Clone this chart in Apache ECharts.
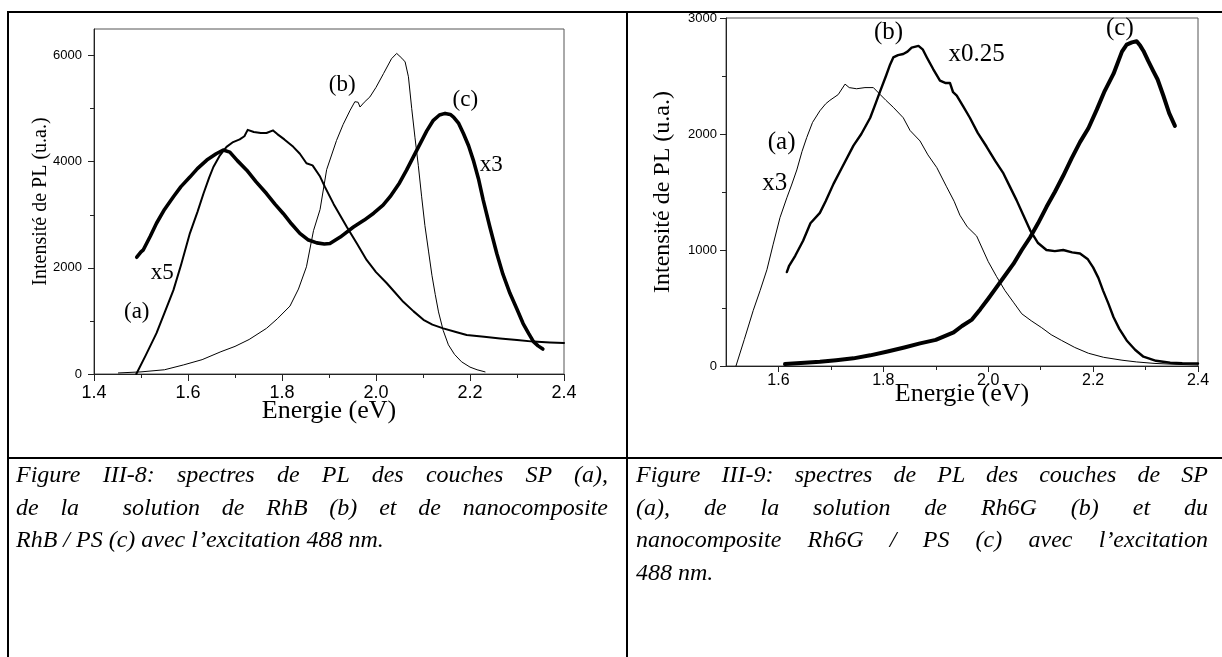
<!DOCTYPE html>
<html lang="fr">
<head>
    <meta charset="UTF-8">
    <title>spectres PL</title>
    <script src="https://cdn.jsdelivr.net/npm/echarts@6/dist/echarts.min.js"></script>
    <style>
        html, body {
            margin: 0;
            padding: 0;
            background: #fff;
        }
        #page {
            position: relative;
            width: 1222px;
            height: 657px;
            overflow: hidden;
        }
        #main {
            position: absolute;
            left: 0;
            top: 0;
            width: 1222px;
            height: 657px;
        }
        .rule {
            position: absolute;
            background: #000;
            z-index: 5;
        }
        .caption {
            position: absolute;
            top: 458px;
            font-family: "Liberation Serif", "Times New Roman", serif;
            font-style: italic;
            font-size: 24px;
            line-height: 32.5px;
            color: #000;
            z-index: 4;
        }
        .caption .j {
            text-align: justify;
            text-align-last: justify;
            white-space: nowrap;
        }
    </style>
</head>
<body>
<div id="page">
    <div id="main"></div>
    <!-- bordures du tableau -->
    <div class="rule" style="left:7px;top:11px;width:1215px;height:2px;"></div>
    <div class="rule" style="left:7px;top:11px;width:2px;height:646px;"></div>
    <div class="rule" style="left:626px;top:11px;width:2px;height:646px;"></div>
    <div class="rule" style="left:7px;top:457px;width:1215px;height:2px;"></div>

    <div class="caption" style="left:16px;width:592px;">
        <div class="j">Figure III-8: spectres de PL des couches SP (a),</div>
        <div class="j">de la &nbsp;solution de RhB (b) et de nanocomposite</div>
        <div>RhB / PS (c) avec l’excitation 488 nm.</div>
    </div>
    <div class="caption" style="left:636px;width:572px;">
        <div class="j">Figure III-9: spectres de PL des couches de SP</div>
        <div class="j">(a), de la solution de Rh6G (b) et du</div>
        <div class="j">nanocomposite Rh6G / PS (c) avec l’excitation</div>
        <div>488 nm.</div>
    </div>
</div>
<script>
    // ---- Figure III-8 : [energie eV, intensite u.a.] ----
    let fig8A = [[1.49, 0], [1.51, 350], [1.533, 770], [1.55, 1150], [1.569, 1580], [1.585, 2050], [1.604, 2650],
        [1.62, 3050], [1.633, 3400], [1.645, 3700], [1.654, 3900], [1.668, 4120], [1.682, 4280], [1.696, 4370],
        [1.71, 4420], [1.72, 4480], [1.727, 4600], [1.74, 4560], [1.755, 4540], [1.767, 4540], [1.781, 4590],
        [1.79, 4520], [1.805, 4420], [1.824, 4280], [1.838, 4150], [1.852, 3970], [1.865, 3930], [1.881, 3720],
        [1.891, 3530], [1.91, 3200], [1.938, 2770], [1.96, 2450], [1.98, 2150], [2.0, 1920], [2.023, 1710],
        [2.04, 1540], [2.058, 1360], [2.08, 1180], [2.101, 1020], [2.12, 930], [2.143, 860], [2.17, 790],
        [2.193, 735], [2.23, 700], [2.264, 670], [2.3, 640], [2.335, 610], [2.37, 595], [2.4, 585]];
    let fig8B = [[1.452, 20], [1.5, 40], [1.55, 80], [1.59, 170], [1.63, 270], [1.67, 420], [1.7, 520], [1.73, 650],
        [1.767, 860], [1.79, 1040], [1.817, 1280], [1.835, 1600], [1.852, 2020], [1.867, 2700], [1.881, 3100],
        [1.895, 3850], [1.916, 4400], [1.93, 4700], [1.945, 4970], [1.955, 5130], [1.962, 5120], [1.966, 5030],
        [1.975, 5120], [1.987, 5220], [2.0, 5400], [2.016, 5660], [2.033, 5940], [2.044, 6040], [2.055, 5950],
        [2.062, 5880], [2.069, 5600], [2.076, 5000], [2.083, 4450], [2.09, 3930], [2.097, 3350], [2.104, 2800],
        [2.112, 2300], [2.119, 1860], [2.126, 1500], [2.133, 1170], [2.143, 820], [2.154, 550], [2.167, 370],
        [2.182, 230], [2.2, 130], [2.215, 80], [2.232, 40]];
    let fig8C = [[1.491, 2200], [1.5, 2300], [1.505, 2340], [1.52, 2600], [1.533, 2840], [1.55, 3100], [1.569, 3340],
        [1.585, 3530], [1.604, 3710], [1.62, 3870], [1.64, 4030], [1.66, 4150], [1.675, 4220], [1.689, 4180],
        [1.705, 4020], [1.725, 3840], [1.745, 3620], [1.767, 3400], [1.785, 3200], [1.803, 3020], [1.82, 2830],
        [1.838, 2650], [1.855, 2530], [1.874, 2470], [1.89, 2450], [1.902, 2460], [1.924, 2580], [1.952, 2770],
        [1.975, 2900], [1.995, 3030], [2.015, 3180], [2.03, 3340], [2.05, 3600], [2.065, 3840], [2.08, 4100],
        [2.094, 4340], [2.108, 4580], [2.122, 4780], [2.135, 4880], [2.147, 4910], [2.158, 4890], [2.165, 4840],
        [2.176, 4720], [2.186, 4530], [2.197, 4300], [2.207, 4030], [2.218, 3680], [2.228, 3280], [2.242, 2780],
        [2.257, 2270], [2.27, 1880], [2.285, 1520], [2.3, 1220], [2.313, 950], [2.325, 760], [2.335, 610],
        [2.345, 530], [2.355, 470]];
    let fig8Notes = [['(a)', 1.491, 1170], ['x5', 1.545, 1900], ['(b)', 1.928, 5440], ['(c)', 2.19, 5160], ['x3', 2.245, 3930]];
    let fig8XTicks = [1.4, 1.6, 1.8, 2.0, 2.2, 2.4];
    let fig8XMinor = [1.5, 1.7, 1.9, 2.1, 2.3];
    let fig8YTicks = [0, 2000, 4000, 6000];
    let fig8YMinor = [1000, 3000, 5000];

    // ---- Figure III-9 ----
    let fig9A = [[1.519, 0], [1.535, 230], [1.552, 480], [1.565, 650], [1.578, 830], [1.59, 1050], [1.603, 1280],
        [1.616, 1450], [1.625, 1560], [1.635, 1690], [1.645, 1850], [1.654, 1970], [1.665, 2100], [1.679, 2200],
        [1.69, 2260], [1.698, 2290], [1.714, 2340], [1.727, 2430], [1.735, 2400], [1.749, 2390], [1.765, 2400],
        [1.781, 2400], [1.794, 2340], [1.805, 2290], [1.819, 2230], [1.838, 2140], [1.851, 2030], [1.87, 1940],
        [1.885, 1820], [1.902, 1710], [1.92, 1550], [1.935, 1420], [1.946, 1300], [1.96, 1200], [1.978, 1120],
        [1.99, 1000], [2.0, 900], [2.016, 770], [2.032, 650], [2.048, 550], [2.064, 450], [2.082, 390],
        [2.102, 330], [2.12, 270], [2.14, 220], [2.165, 160], [2.191, 110], [2.22, 75], [2.255, 50], [2.283, 35],
        [2.318, 22], [2.36, 14], [2.4, 9]];
    let fig9B = [[1.616, 810], [1.62, 860], [1.632, 950], [1.647, 1080], [1.661, 1230], [1.679, 1320], [1.69, 1420],
        [1.705, 1570], [1.72, 1700], [1.743, 1900], [1.758, 2000], [1.775, 2140], [1.785, 2260], [1.794, 2370],
        [1.805, 2500], [1.813, 2600], [1.819, 2660], [1.828, 2680], [1.838, 2690], [1.846, 2710], [1.854, 2745],
        [1.867, 2760], [1.875, 2730], [1.883, 2660], [1.895, 2560], [1.908, 2460], [1.918, 2440], [1.927, 2440],
        [1.933, 2360], [1.94, 2330], [1.952, 2240], [1.965, 2140], [1.98, 2010], [1.997, 1890], [2.013, 1770],
        [2.029, 1660], [2.042, 1540], [2.054, 1430], [2.067, 1300], [2.08, 1170], [2.095, 1060], [2.111, 1000],
        [2.127, 990], [2.143, 1000], [2.16, 980], [2.175, 970], [2.19, 920], [2.2, 850], [2.21, 760], [2.219, 650],
        [2.229, 540], [2.239, 420], [2.25, 320], [2.264, 220], [2.28, 140], [2.296, 80], [2.32, 45], [2.347, 28],
        [2.37, 24], [2.4, 22]];
    let fig9C = [[1.6125, 17], [1.65, 28], [1.679, 37], [1.71, 50], [1.743, 66], [1.775, 92], [1.806, 123], [1.84, 160],
        [1.87, 195], [1.9, 225], [1.934, 290], [1.95, 345], [1.969, 400], [1.985, 490], [2.0, 580], [2.016, 680],
        [2.032, 780], [2.048, 880], [2.064, 1000], [2.08, 1110], [2.095, 1230], [2.111, 1370], [2.127, 1500],
        [2.143, 1640], [2.159, 1790], [2.175, 1930], [2.191, 2050], [2.207, 2210], [2.222, 2370], [2.239, 2520],
        [2.255, 2710], [2.264, 2770], [2.274, 2790], [2.283, 2800], [2.29, 2760], [2.296, 2716], [2.305, 2630],
        [2.315, 2540], [2.323, 2470], [2.334, 2330], [2.345, 2180], [2.356, 2070]];
    let fig9Notes = [['(a)', 1.606, 1930], ['x3', 1.593, 1570], ['(b)', 1.81, 2874], ['x0.25', 1.978, 2690], ['(c)', 2.251, 2906]];
    let fig9XTicks = [1.6, 1.8, 2.0, 2.2, 2.4];
    let fig9XMinor = [1.7, 1.9, 2.1, 2.3];
    let fig9YTicks = [0, 1000, 2000, 3000];
    let fig9YMinor = [500, 1500, 2500];

    const SANS = 'Liberation Sans, Arial, sans-serif';
    const SERIF = 'Liberation Serif, Times New Roman, serif';

    /*
    * axe principal : ligne, graduations longues, etiquettes
    * @params decimals nombre de decimales des etiquettes
    * */
    function mainAxis(grid, min, max, ticks, labelSize, margin, tickLen, decimals, extra) {
        let axis = {
            gridIndex: grid,
            type: 'value',
            min: min,
            max: max,
            axisLine: {show: true, lineStyle: {color: '#222', width: 1}},
            axisTick: {show: true, customValues: ticks, length: tickLen, inside: false, lineStyle: {color: '#222'}},
            axisLabel: {
                customValues: ticks,
                fontFamily: SANS,
                fontSize: labelSize,
                color: '#000',
                margin: margin,
                formatter: v => v.toFixed(decimals)
            },
            splitLine: {show: false},
            nameMoveOverlap: false
        };
        return Object.assign(axis, extra);
    }

    //axe secondaire : seulement les petites graduations
    function minorAxis(grid, min, max, ticks, position) {
        return {
            gridIndex: grid,
            type: 'value',
            min: min,
            max: max,
            position: position,
            axisLine: {show: false},
            axisTick: {show: true, customValues: ticks, length: 4, lineStyle: {color: '#222'}},
            axisLabel: {show: false},
            splitLine: {show: false}
        };
    }

    function curve(data, width, axisIndex) {
        return {
            type: 'line',
            data: data,
            xAxisIndex: axisIndex,
            yAxisIndex: axisIndex,
            showSymbol: false,
            symbol: 'none',
            lineStyle: {color: '#000', width: width, join: 'round', cap: 'round'},
            silent: true
        };
    }

    //annotations (a), (b), x3 ... placees en coordonnees de donnees
    function notes(list, size, axisIndex) {
        return {
            type: 'scatter',
            xAxisIndex: axisIndex,
            yAxisIndex: axisIndex,
            symbolSize: 1,
            itemStyle: {color: 'rgba(0,0,0,0)'},
            silent: true,
            data: list.map(n => ({name: n[0], value: [n[1], n[2]]})),
            label: {
                show: true,
                position: 'inside',
                formatter: '{b}',
                fontFamily: SERIF,
                fontSize: size,
                color: '#000',
                opacity: 1
            }
        };
    }

    let option = {
        animation: false,
        backgroundColor: '#fff',
        grid: [
            {left: 94, top: 29, width: 470, height: 345, show: true, borderColor: '#555', borderWidth: 1},
            {left: 726, top: 18, width: 472, height: 348, show: true, borderColor: '#555', borderWidth: 1}
        ],
        xAxis: [
            mainAxis(0, 1.4, 2.4, fig8XTicks, 18, 10, 7, 1, {
                position: 'bottom',
                name: 'Energie (eV)', nameLocation: 'middle', nameGap: 24,
                nameTextStyle: {fontFamily: SERIF, fontSize: 26, color: '#000', verticalAlign: 'top'}
            }),
            minorAxis(0, 1.4, 2.4, fig8XMinor, 'bottom'),
            mainAxis(1, 1.5, 2.4, fig9XTicks, 16, 7, 6, 1, {
                position: 'bottom',
                name: 'Energie (eV)', nameLocation: 'middle', nameGap: 15,
                nameTextStyle: {fontFamily: SERIF, fontSize: 26, color: '#000', verticalAlign: 'top'}
            }),
            minorAxis(1, 1.5, 2.4, fig9XMinor, 'bottom')
        ],
        yAxis: [
            mainAxis(0, 0, 6500, fig8YTicks, 13, 12, 6, 0, {
                position: 'left',
                name: 'Intensité de PL (u.a.)', nameLocation: 'middle', nameGap: 43,
                nameTextStyle: {fontFamily: SERIF, fontSize: 20, color: '#000'}
            }),
            minorAxis(0, 0, 6500, fig8YMinor, 'left'),
            mainAxis(1, 0, 3000, fig9YTicks, 13, 9, 6, 0, {
                position: 'left',
                name: 'Intensité de PL (u.a.)', nameLocation: 'middle', nameGap: 51,
                nameTextStyle: {fontFamily: SERIF, fontSize: 24, color: '#000'}
            }),
            minorAxis(1, 0, 3000, fig9YMinor, 'left')
        ],
        series: [
            curve(fig8B, 1, 0),
            curve(fig8A, 2, 0),
            curve(fig8C, 3.6, 0),
            notes(fig8Notes, 23, 0),
            curve(fig9A, 1, 2),
            curve(fig9B, 2.4, 2),
            curve(fig9C, 4, 2),
            notes(fig9Notes, 25, 2)
        ]
    };

    let myChart = echarts.init(document.getElementById('main'), null, {renderer: 'canvas'});
    myChart.setOption(option);
</script>
</body>
</html>
